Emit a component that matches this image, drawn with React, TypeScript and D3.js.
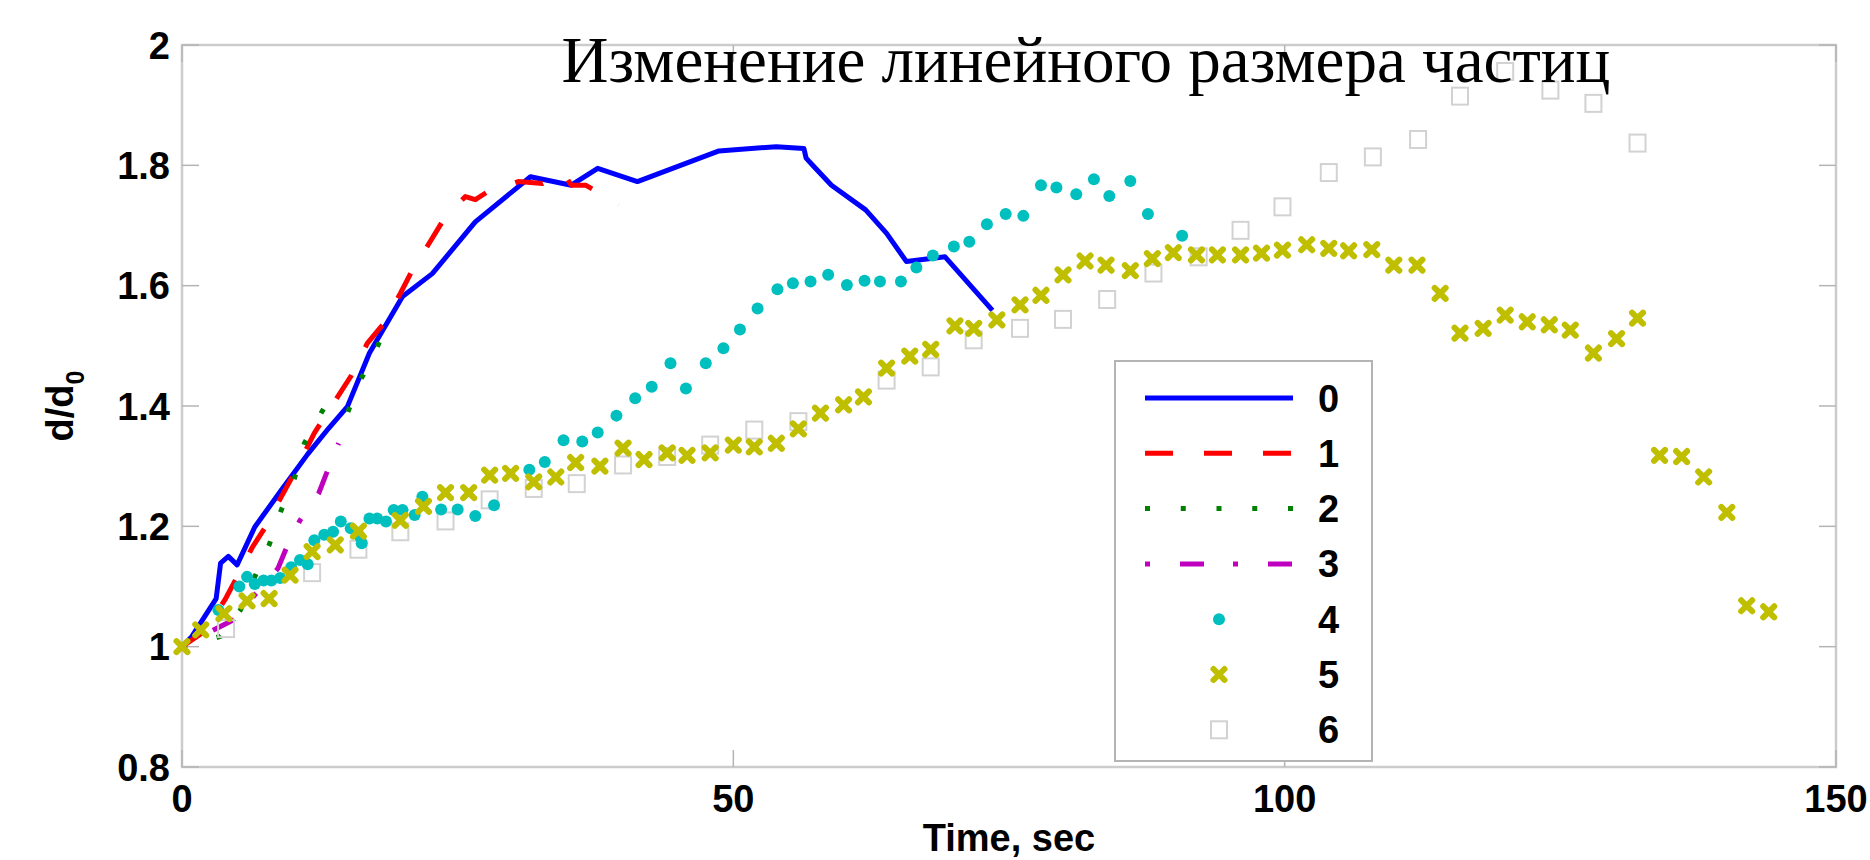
import React, { useEffect, useRef } from "react";
import * as d3 from "d3";

// time (sec) vs d/d0
const series0: [number, number][] = [
  [0, 1.0], [0.9, 1.017], [3.1, 1.08], [3.5, 1.139], [4.2, 1.15], [5.0, 1.136], [6.6, 1.199],
  [9.0, 1.26], [11.4, 1.32], [13.3, 1.363], [15.0, 1.399], [17.0, 1.488], [20.0, 1.582],
  [22.7, 1.62], [26.6, 1.706], [31.6, 1.781], [35.3, 1.767], [37.7, 1.795], [41.3, 1.773],
  [48.7, 1.824], [53.9, 1.831], [56.4, 1.828], [56.6, 1.812], [57.3, 1.798], [58.9, 1.767],
  [62.0, 1.726], [63.9, 1.687], [65.7, 1.64], [69.2, 1.648], [73.5, 1.559],
];
const series1: [number, number][] = [
  [0, 1.0], [2.0, 1.025], [3.9, 1.078], [5.0, 1.116], [6.4, 1.166], [7.6, 1.2], [9.0, 1.249],
  [10.2, 1.289], [12.0, 1.355], [15.3, 1.449], [16.8, 1.504], [18.3, 1.537], [19.8, 1.587],
  [20.9, 1.626], [22.4, 1.67], [23.9, 1.715], [25.7, 1.748], [26.6, 1.743], [27.7, 1.756],
  [30.5, 1.773], [32.7, 1.77], [34.6, 1.787], [35.3, 1.767], [36.6, 1.767], [39.0, 1.742],
  [39.6, 1.734],
];
const series2: [number, number][] = [
  [0, 1.0], [3.5, 1.017], [5.3, 1.061], [6.6, 1.116], [7.9, 1.169], [9.0, 1.227], [10.2, 1.28],
  [11.1, 1.338], [13.1, 1.404], [15.0, 1.388], [16.1, 1.44], [17.6, 1.493], [18.7, 1.543],
];
const series3: [number, number][] = [
  [0, 1.0], [2.9, 1.028], [4.6, 1.044], [6.6, 1.086], [8.7, 1.13], [9.4, 1.161], [10.7, 1.21],
  [12.4, 1.255], [13.1, 1.288], [14.2, 1.338],
];
const series4: [number, number][] = [
  [3.3, 1.061], [5.2, 1.1], [5.9, 1.116], [6.6, 1.104], [7.4, 1.11], [8.1, 1.11], [8.9, 1.114],
  [9.9, 1.132], [10.7, 1.144], [11.4, 1.137], [12.0, 1.177], [12.9, 1.186], [13.7, 1.191],
  [14.4, 1.208], [15.3, 1.197], [16.1, 1.184], [16.3, 1.172], [17.0, 1.213], [17.7, 1.213],
  [18.5, 1.208], [19.2, 1.227], [20.0, 1.227], [21.1, 1.219], [21.8, 1.249], [23.5, 1.228],
  [25.0, 1.228], [26.6, 1.217], [28.3, 1.235], [31.5, 1.294], [32.9, 1.307], [34.6, 1.343],
  [36.3, 1.341], [37.7, 1.356], [39.4, 1.384], [41.1, 1.413], [42.6, 1.432], [44.3, 1.471],
  [45.7, 1.429], [47.5, 1.471], [49.1, 1.496], [50.6, 1.527], [52.2, 1.562], [54.0, 1.594],
  [55.4, 1.604], [57.0, 1.607], [58.6, 1.618], [60.3, 1.601], [61.9, 1.608], [63.3, 1.607],
  [65.2, 1.607], [66.6, 1.63], [68.1, 1.65], [70.0, 1.665], [71.4, 1.673], [73.0, 1.702],
  [74.7, 1.719], [76.3, 1.716], [77.9, 1.767], [79.3, 1.763], [81.1, 1.752], [82.7, 1.777],
  [84.1, 1.749], [86.0, 1.774], [87.6, 1.719], [90.7, 1.683],
];
const series5: [number, number][] = [
  [0, 1.0], [1.7, 1.028], [3.8, 1.055], [5.9, 1.076], [7.9, 1.08], [9.8, 1.119], [11.8, 1.158],
  [13.9, 1.169], [16.0, 1.192], [19.8, 1.21], [21.9, 1.233], [23.9, 1.256], [26.0, 1.256],
  [27.9, 1.285], [29.8, 1.288], [31.9, 1.274], [33.9, 1.282], [35.7, 1.306], [37.9, 1.3],
  [40.0, 1.33], [41.9, 1.311], [44.0, 1.322], [45.8, 1.318], [47.9, 1.322], [50.0, 1.335],
  [51.9, 1.332], [53.9, 1.338], [55.9, 1.362], [57.9, 1.388], [60.0, 1.402], [61.8, 1.415],
  [63.9, 1.463], [66.0, 1.483], [67.9, 1.494], [70.1, 1.533], [71.8, 1.529], [73.9, 1.543],
  [76.0, 1.568], [77.9, 1.584], [79.9, 1.618], [81.9, 1.641], [83.8, 1.634], [86.0, 1.625],
  [88.0, 1.645], [89.9, 1.655], [92.0, 1.651], [93.9, 1.651], [96.0, 1.651], [97.9, 1.654],
  [99.8, 1.659], [102.0, 1.668], [104.0, 1.662], [105.8, 1.658], [107.9, 1.66], [109.9, 1.634],
  [112.0, 1.634], [114.1, 1.587], [115.9, 1.521], [118.0, 1.529], [120.0, 1.551], [122.0, 1.54],
  [124.0, 1.535], [125.9, 1.526], [128.0, 1.488], [130.1, 1.512], [132.0, 1.546], [134.0, 1.318],
  [136.0, 1.316], [138.0, 1.282], [140.1, 1.223], [141.9, 1.068], [143.9, 1.058],
];
const series6: [number, number][] = [
  [4.0, 1.03], [11.8, 1.123], [16.0, 1.162], [19.8, 1.191], [23.9, 1.209], [27.9, 1.244],
  [31.9, 1.263], [35.8, 1.271], [40.0, 1.302], [44.0, 1.316], [47.9, 1.335], [51.9, 1.36],
  [55.9, 1.374], [63.9, 1.443], [67.9, 1.465], [71.8, 1.51], [76.0, 1.529], [79.9, 1.544],
  [83.9, 1.577], [88.1, 1.621], [92.2, 1.648], [96.0, 1.692], [99.8, 1.731], [104.0, 1.788],
  [108.0, 1.814], [112.1, 1.843], [115.9, 1.915], [120.0, 1.956], [124.1, 1.925], [128.0, 1.903],
  [132.0, 1.837],
];

const legendLabels = ["0", "1", "2", "3", "4", "5", "6"];
const xTicks = [0, 50, 100, 150];
const yTicks = [0.8, 1, 1.2, 1.4, 1.6, 1.8, 2];
const title = "Изменение линейного размера частиц";

const SANS = "'Liberation Sans', Arial, Helvetica, sans-serif";
const SERIF = "'Liberation Serif', 'Times New Roman', serif";

const App = () => {
  const ref = useRef<HTMLDivElement>(null);

  useEffect(() => {
    document.body.style.margin = "0";
    document.body.style.overflow = "hidden";
    d3.select(ref.current).selectAll("*").remove();

    const width = 1870;
    const height = 860;
    const left = 182, right = 1836, top = 45, bottom = 767;

    const svg = d3.select(ref.current)
      .append("svg")
      .attr("width", width)
      .attr("height", height)
      .style("display", "block")
      .style("background", "#fff");

    const x = d3.scaleLinear().domain([0, 150]).range([left, right]);
    const y = d3.scaleLinear().domain([0.8, 2]).range([bottom, top]);

    // axes box
    svg.append("rect")
      .attr("x", left).attr("y", top)
      .attr("width", right - left).attr("height", bottom - top)
      .attr("fill", "none").attr("stroke", "#cccccc").attr("stroke-width", 2.5);

    const tickLen = 17;
    const tickColor = "#b4b4b4";
    yTicks.forEach(v => {
      svg.append("line").attr("x1", left).attr("x2", left + tickLen)
        .attr("y1", y(v)).attr("y2", y(v)).attr("stroke", tickColor).attr("stroke-width", 1.5);
      svg.append("line").attr("x1", right - tickLen).attr("x2", right)
        .attr("y1", y(v)).attr("y2", y(v)).attr("stroke", tickColor).attr("stroke-width", 1.5);
      svg.append("text")
        .attr("x", left - 12).attr("y", y(v) + 13.5)
        .attr("text-anchor", "end")
        .attr("font-family", SANS).attr("font-weight", "bold").attr("font-size", 38)
        .text(d3.format("")(v));
    });
    xTicks.forEach(t => {
      svg.append("line").attr("x1", x(t)).attr("x2", x(t))
        .attr("y1", bottom).attr("y2", bottom - tickLen).attr("stroke", tickColor).attr("stroke-width", 1.5);
      svg.append("line").attr("x1", x(t)).attr("x2", x(t))
        .attr("y1", top).attr("y2", top + tickLen).attr("stroke", tickColor).attr("stroke-width", 1.5);
      svg.append("text")
        .attr("x", x(t)).attr("y", 812)
        .attr("text-anchor", "middle")
        .attr("font-family", SANS).attr("font-weight", "bold").attr("font-size", 38)
        .text(t);
    });

    // axis titles
    svg.append("text")
      .attr("x", (left + right) / 2).attr("y", 851)
      .attr("text-anchor", "middle")
      .attr("font-family", SANS).attr("font-weight", "bold").attr("font-size", 38)
      .text("Time, sec");

    const yl = svg.append("text")
      .attr("transform", `translate(73,${(top + bottom) / 2}) rotate(-90)`)
      .attr("text-anchor", "middle")
      .attr("font-family", SANS).attr("font-weight", "bold").attr("font-size", 38);
    yl.append("tspan").text("d/d");
    yl.append("tspan").attr("font-size", 25).attr("dy", 11).text("0");

    const line = d3.line<[number, number]>()
      .x(d => x(d[0]))
      .y(d => y(d[1]));

    const lineStyles = [
      { data: series0, color: "#0000ff", dash: null },
      { data: series1, color: "#ff0000", dash: "28 31" },
      { data: series2, color: "#008000", dash: "5 30.75" },
      { data: series3, color: "#bf00bf", dash: "5 30 24 29" },
    ];
    lineStyles.forEach(s => {
      svg.append("path")
        .datum(s.data)
        .attr("fill", "none")
        .attr("stroke", s.color)
        .attr("stroke-width", 5)
        .attr("stroke-linejoin", "round")
        .attr("stroke-dasharray", s.dash)
        .attr("d", line);
    });

    // markers
    const squares = (g: any, cx: number, cy: number) =>
      g.append("rect").attr("x", cx - 8).attr("y", cy - 8.5).attr("width", 16).attr("height", 17)
        .attr("fill", "none").attr("stroke", "#d2d2d2").attr("stroke-width", 2);
    const dots = (g: any, cx: number, cy: number) =>
      g.append("circle").attr("cx", cx).attr("cy", cy).attr("r", 6).attr("fill", "#00bfbf");
    const crosses = (g: any, cx: number, cy: number) =>
      g.append("path")
        .attr("d", `M${cx - 5.5},${cy - 5.5}L${cx + 5.5},${cy + 5.5}M${cx - 5.5},${cy + 5.5}L${cx + 5.5},${cy - 5.5}`)
        .attr("stroke", "#bfbf00").attr("stroke-width", 6).attr("stroke-linecap", "round").attr("fill", "none");

    const gm = svg.append("g");
    series6.forEach(d => squares(gm, x(d[0]), y(d[1])));
    series4.forEach(d => dots(gm, x(d[0]), y(d[1])));
    series5.forEach(d => crosses(gm, x(d[0]), y(d[1])));

    // legend
    const lg = svg.append("g");
    lg.append("rect")
      .attr("x", 1115).attr("y", 361).attr("width", 257).attr("height", 400)
      .attr("fill", "#fff").attr("stroke", "#b4b4b4").attr("stroke-width", 2);
    const rowY = (i: number) => 398 + i * 55.3;
    lineStyles.forEach((s, i) => {
      lg.append("line")
        .attr("x1", 1145).attr("x2", 1293)
        .attr("y1", rowY(i)).attr("y2", rowY(i))
        .attr("stroke", s.color).attr("stroke-width", 5)
        .attr("stroke-dasharray", s.dash);
    });
    dots(lg, 1219, rowY(4));
    crosses(lg, 1219, rowY(5));
    squares(lg, 1219, rowY(6));
    legendLabels.forEach((l, i) => {
      lg.append("text")
        .attr("x", 1318).attr("y", rowY(i) + 13.5)
        .attr("font-family", SANS).attr("font-weight", "bold").attr("font-size", 38)
        .text(l);
    });

    // title on top of everything
    svg.append("text")
      .attr("x", 1086).attr("y", 82)
      .attr("text-anchor", "middle")
      .attr("font-family", SERIF).attr("font-size", 65)
      .text(title);
  }, []);

  return <div ref={ref}></div>;
};

export default App;
